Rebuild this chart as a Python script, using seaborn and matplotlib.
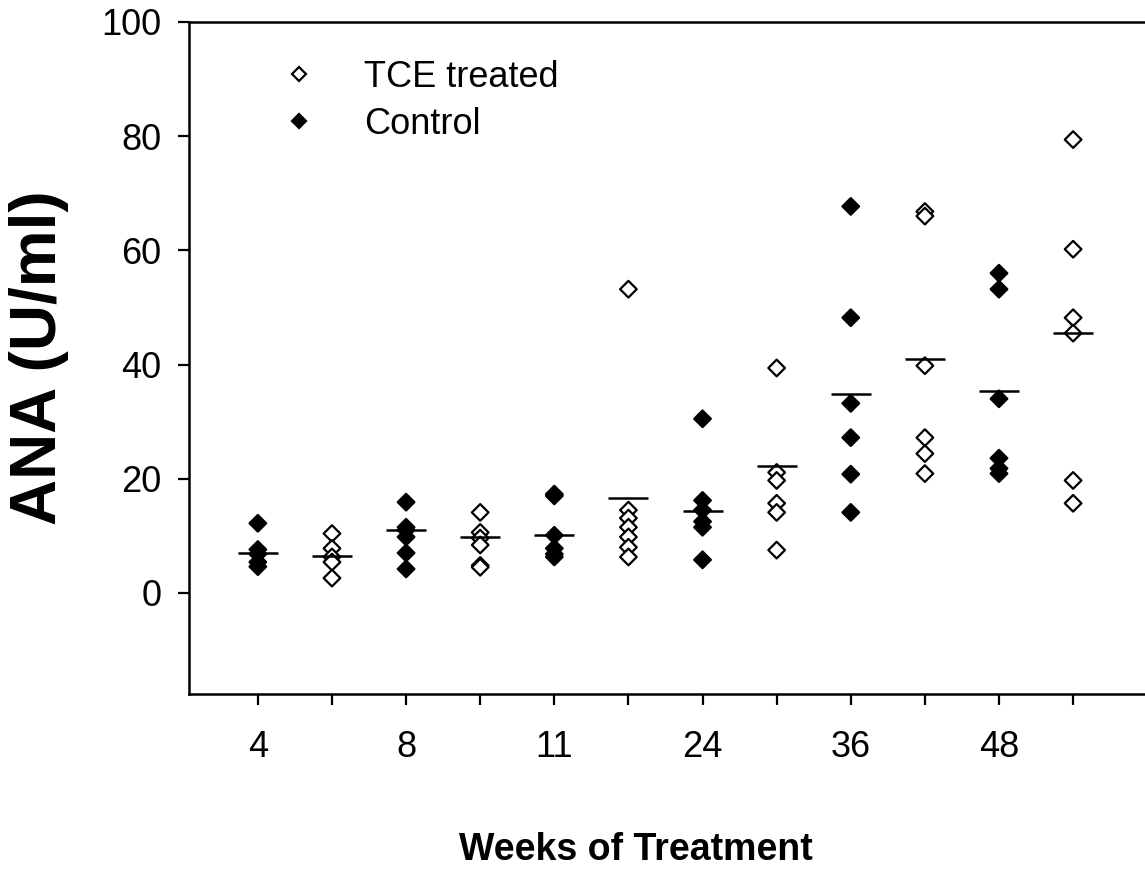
import numpy as np
import pandas as pd
import matplotlib
matplotlib.use('Agg')
import matplotlib.pyplot as plt
import seaborn as sns

# 数据
weeks = [4, 8, 11, 24, 36, 48]
control = {
    4: [12.2, 7.6, 6.8, 5.4, 4.6],
    8: [15.9, 11.5, 11.0, 9.8, 7.0, 4.2],
    11: [17.3, 17.0, 10.1, 7.8, 6.8, 6.3],
    24: [30.5, 16.2, 14.5, 12.5, 11.5, 5.8],
    36: [67.7, 48.2, 33.2, 27.2, 20.8, 14.1],
    48: [56.0, 53.2, 34.0, 23.6, 21.8, 20.9],
}
tce = {
    4: [10.4, 7.8, 6.3, 5.4, 2.6],
    8: [14.1, 10.6, 9.6, 8.4, 4.8, 4.5],
    11: [53.2, 14.5, 13.1, 11.5, 9.8, 8.0, 6.3],
    24: [39.4, 21.1, 19.7, 15.7, 14.1, 7.5],
    36: [66.8, 66.0, 39.8, 27.2, 24.4, 20.9],
    48: [79.4, 60.2, 48.2, 45.5, 19.7, 15.7],
}
# 各组均值横线
control_means = [7.0, 11.1, 10.1, 14.3, 34.9, 35.3]
tce_means = [6.5, 9.8, 16.6, 22.3, 41.0, 45.5]

# 整理成长表: 每周先对照组, 再TCE组
rows = []
mean_rows = []
for i, w in enumerate(weeks):
    for j, (name, d, m) in enumerate([('Control', control, control_means),
                                      ('TCE treated', tce, tce_means)]):
        pos = 2 * i + j
        for v in d[w]:
            rows.append({'pos': pos, 'ANA': v, 'group': name})
        mean_rows.append({'pos': pos, 'mean': m[i]})
df = pd.DataFrame(rows)
df_mean = pd.DataFrame(mean_rows)

sns.set_style('white')
plt.rcParams['font.family'] = ['Liberation Sans', 'DejaVu Sans']
plt.rcParams['text.color'] = 'black'
plt.rcParams['axes.labelcolor'] = 'black'

fig = plt.figure(figsize=(11.45, 8.69), dpi=100)
ax = fig.add_axes([0.165, 0.2014, 0.835, 0.7733])

sns.scatterplot(data=df, x='pos', y='ANA', hue='group',
                hue_order=['TCE treated', 'Control'],
                palette={'TCE treated': 'white', 'Control': 'black'},
                marker='D', s=72, edgecolor='black', linewidth=1.6,
                ax=ax, zorder=3)

# 均值横线
ax.hlines(df_mean['mean'], df_mean['pos'] - 0.27, df_mean['pos'] + 0.27,
          colors='black', linewidth=1.8, zorder=4)

ax.set_xlim(-0.93, 11.97)
ax.set_ylim(-17.7, 100)
ax.set_xticks(range(12))
ax.set_xticklabels(['4', '', '8', '', '11', '', '24', '', '36', '', '48', ''])
ax.set_yticks([0, 20, 40, 60, 80, 100])

for side in ['left', 'bottom', 'top']:
    ax.spines[side].set_linewidth(1.8)
    ax.spines[side].set_color('black')
ax.spines['right'].set_visible(False)
ax.tick_params(axis='both', direction='out', length=8, width=1.6,
               labelsize=26, colors='black', bottom=True, left=True)
ax.tick_params(axis='x', pad=18)
ax.tick_params(axis='y', pad=12)

ax.set_ylabel('ANA (U/ml)', fontsize=46, fontweight='bold')
ax.yaxis.set_label_coords(-0.125, 0.5)
ax.set_xlabel('Weeks of Treatment', fontsize=27, fontweight='heavy')
ax.xaxis.set_label_coords(0.467, -0.205)

leg = ax.legend(loc='upper left', bbox_to_anchor=(0.0774, 0.944),
                frameon=False, fontsize=26, handlelength=2.0,
                handletextpad=0.81, labelspacing=0.33, borderpad=0,
                borderaxespad=0, markerscale=0.8, title=None)

fig.savefig('out.png', dpi=100)
